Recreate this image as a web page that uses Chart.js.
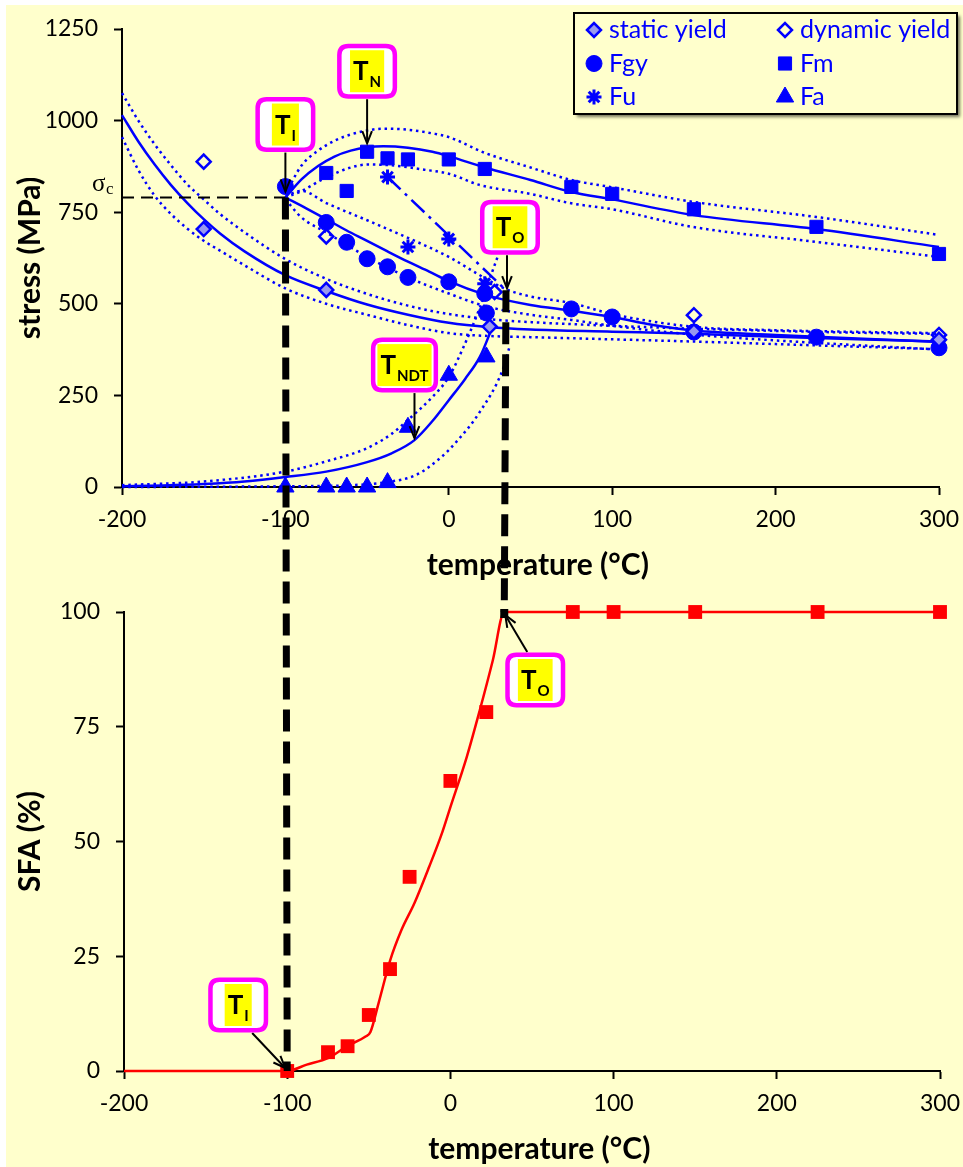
<!DOCTYPE html>
<html><head><meta charset="utf-8">
<script src="https://cdn.jsdelivr.net/npm/chart.js@4.4.0/dist/chart.umd.min.js"></script>
<style>
html,body{margin:0;padding:0;background:#fff;}
#wrap{position:relative;width:963px;height:1167px;overflow:hidden;}
#bg{position:absolute;left:6px;top:5px;right:0;bottom:0;background:#FFFFCC;}
canvas{position:absolute;left:0;}
#c1{top:0}
#c2{top:590px}
#ov{top:0;pointer-events:none}
</style></head><body>
<div id="wrap"><div id="bg"></div>
<canvas id="c1" width="963" height="590"></canvas>
<canvas id="c2" width="963" height="577"></canvas>
<canvas id="ov" width="963" height="1167"></canvas>
</div>
<script>
// ---------------- data ----------------
const tempTicks = [-200, -100, 0, 100, 200, 300];
const stressTicks = [0, 250, 500, 750, 1000, 1250];
const sfaTicks = [0, 25, 50, 75, 100];

// measured points (upper chart)
const staticYieldT = [-150, -75, 25, 150, 300];
const staticYieldV = [704, 538, 438, 425, 402];
const dynamicYieldT = [-150, -75, 28, 150, 300];
const dynamicYieldV = [888, 684, 532, 469, 415];
const fgyT = [-100, -75, -62.5, -50, -37.5, -25, 0, 22, 23, 75, 100, 150, 225, 300];
const fgyV = [820, 722, 668, 623, 601, 572, 560, 528, 475, 486, 464, 423, 409, 380];
const fmT = [-75, -62.5, -50, -37.5, -25, 0, 22, 75, 100, 150, 225, 300];
const fmV = [857, 808, 915, 897, 894, 894, 868, 819, 800, 758, 710, 636];
const fuT = [-37.5, -25, 0, 22];
const fuV = [846, 655, 677, 555];
const faT = [-100, -75, -62.5, -50, -37.5, -25, 0, 23];
const faV = [0, 0, 0, 0, 12, 163, 305, 355];

// fitted curves and bands (upper chart)
const staticFitT = [-200, -190, -180, -170, -160, -150, -140, -125, -100, -75, -50, -25, 0, 25, 50, 100, 150, 200, 250, 300];
const staticFitV = [1015, 943, 880, 824, 775, 731, 692, 643, 578, 535, 498, 470, 448, 436, 430, 424, 418, 410, 403, 397];
const staticUpT = [-200, -190, -180, -170, -160, -150, -140, -125, -100, -75, -50, -25, 0, 25, 50, 100, 150, 200, 250, 300];
const staticUpV = [1075, 1000, 935, 878, 826, 785, 745, 695, 622, 568, 527, 495, 472, 458, 450, 440, 432, 426, 421, 418];
const staticLoT = [-200, -190, -180, -170, -160, -150, -140, -125, -100, -75, -50, -25, 0, 25, 50, 100, 150, 200, 250, 300];
const staticLoV = [955, 865, 795, 745, 705, 672, 645, 605, 542, 500, 470, 442, 420, 412, 409, 403, 397, 390, 383, 376];

const fgyFitT = [-100, -87, -75, -62.5, -50, -37.5, -25, -12, 0, 22, 35, 50, 75, 100, 125, 150, 200, 250, 300];
const fgyFitV = [790, 760, 731, 700, 672, 643, 615, 588, 562, 525, 510, 497, 481, 464, 442, 427, 415, 405, 396];
const fgyUpT = [-100, -90, -75, -50, -25, 0, 19, 35, 50, 75, 100, 150, 200, 300];
const fgyUpV = [795, 808, 775, 728, 680, 628, 578, 540, 520, 502, 472, 437, 428, 420];
const fgyLoT = [-100, -90, -75, -50, -25, 0, 22, 50, 75, 100, 150, 200, 300];
const fgyLoV = [785, 735, 695, 628, 572, 528, 494, 470, 456, 440, 416, 400, 375];

const fmFitT = [-100, -90, -80, -70, -60, -50, -40, -25, -10, 0, 22, 50, 75, 100, 150, 225, 300];
const fmFitV = [790, 840, 876, 902, 918, 927, 930, 926, 915, 903, 872, 838, 805, 785, 742, 704, 655];
const fmUpT = [-100, -90, -80, -70, -60, -50, -40, -25, -10, 0, 22, 50, 75, 100, 150, 225, 300];
const fmUpV = [800, 878, 918, 945, 962, 973, 978, 975, 965, 955, 912, 872, 838, 818, 778, 737, 688];
const fmLoT = [-100, -90, -75, -60, -50, -35, -15, 0, 19, 50, 74, 100, 149, 225, 300];
const fmLoV = [790, 808, 845, 872, 880, 878, 866, 855, 824, 800, 775, 758, 710, 669, 628];

const faFitT = [-200, -175, -150, -125, -100, -75, -50, -35, -21, -10, 0, 10, 19, 27];
const faFitV = [2, 4, 8, 15, 27, 42, 68, 92, 128, 180, 237, 295, 355, 440];
const faUpT = [-200, -150, -100, -75, -50, -35, -25, -10, 0, 9, 19, 26, 30];
const faUpV = [5, 15, 42, 70, 106, 145, 183, 246, 300, 382, 490, 580, 630];
const faLoT = [-200, -100, -60, -40, -20, -5, 5, 19, 33, 37];
const faLoV = [0, 2, 5, 12, 33, 80, 125, 205, 320, 380];

const fuLineT = [-37.5, 35];
const fuLineV = [846, 537];

// transition temperatures
const T_I = -100, SIGMA_C = 790;
const T_N = -50, T_N_STRESS = 930;
const T_NDT = -21, T_NDT_STRESS = 128;
const T_O_TOP = 35, T_O_STRESS = 537;
const T_O_BOT = 33, SFA_FULL = 100;
const sigmaLineT = [-200, T_I];
const sigmaLineV = [SIGMA_C, SIGMA_C];

// lower chart
const sfaT = [-100, -75, -63, -50, -37, -25, 0, 22, 75, 100, 150, 225, 300];
const sfaV = [0, 4.1, 5.4, 12.2, 22.2, 42.3, 63.2, 78.2, 100, 100, 100, 100, 100];
const sfaFitT = [-200, -100, -88, -75, -63, -52, -49, -44, -37, -30, -22, -13, -5, 0, 10, 18, 26, 33, 300];
const sfaFitV = [0, 0, 1.4, 2.8, 5.5, 7.5, 8.5, 14.8, 24, 30.7, 36.6, 44.5, 52, 57.5, 68.4, 78.6, 89.5, 100, 100];

// ---------------- styling helpers ----------------
const FONT = 'Lato';
const BLUE = '#0000FF';
const RED = '#FF0000';
const pts = (T, V) => T.map((t, i) => ({x: t, y: V[i]}));

function lineDS(T, V, kind, extra) {
  const d = {data: pts(T, V), showLine: true, pointRadius: 0, pointHoverRadius: 0,
    borderColor: BLUE, borderWidth: 2.5, fill: false, clip: false,
    cubicInterpolationMode: 'monotone', order: 10};
  if (kind === 'dot') d.borderDash = [2.5, 3.8];
  return Object.assign(d, extra || {});
}
function markDS(label, T, V, style, r, fill, bw, extra) {
  return Object.assign({label, data: pts(T, V), showLine: false, pointStyle: style,
    pointRadius: r, pointHoverRadius: r, pointBackgroundColor: fill, backgroundColor: fill,
    pointBorderColor: BLUE, borderColor: BLUE, pointBorderWidth: bw, borderWidth: bw,
    clip: false, order: 1}, extra || {});
}

function axisX(ticks, titleText, height, padBottom) {
  return {
    type: 'linear', position: 'bottom', min: ticks[0], max: ticks[ticks.length - 1],
    afterBuildTicks: s => { s.ticks = ticks.map(v => ({value: v})); },
    ticks: {color: '#000', font: {family: FONT, size: 23}, padding: 11, maxRotation: 0, autoSkip: false,
      callback: v => String(v)},
    grid: {display: true, drawOnChartArea: false, drawTicks: true, tickLength: 8, tickWidth: 2, color: '#000'},
    border: {display: true, color: '#000', width: 2},
    title: {display: true, text: titleText, color: '#000', font: {family: FONT, size: 30, weight: 'bold'},
      padding: {top: 0, bottom: padBottom}},
    afterFit: s => { s.height = height; s.paddingLeft = 0; s.paddingRight = 0; }
  };
}
function axisY(ticks, titleText, width) {
  return {
    type: 'linear', position: 'left', min: ticks[0], max: ticks[ticks.length - 1],
    afterBuildTicks: s => { s.ticks = ticks.map(v => ({value: v})); },
    ticks: {color: '#000', font: {family: FONT, size: 23}, padding: 16, autoSkip: false,
      callback: v => String(v)},
    grid: {display: true, drawOnChartArea: false, drawTicks: true, tickLength: 8, tickWidth: 2, color: '#000'},
    border: {display: true, color: '#000', width: 2},
    title: {display: true, text: titleText, color: '#000', font: {family: FONT, size: 30, weight: 'bold'},
      padding: {top: 6, bottom: 0}},
    afterFit: s => { s.width = width; s.paddingTop = 0; s.paddingBottom = 0; }
  };
}

function roundRect(ctx, x, y, w, h, r) {
  ctx.beginPath();
  ctx.moveTo(x + r, y);
  ctx.lineTo(x + w - r, y); ctx.quadraticCurveTo(x + w, y, x + w, y + r);
  ctx.lineTo(x + w, y + h - r); ctx.quadraticCurveTo(x + w, y + h, x + w - r, y + h);
  ctx.lineTo(x + r, y + h); ctx.quadraticCurveTo(x, y + h, x, y + h - r);
  ctx.lineTo(x, y + r); ctx.quadraticCurveTo(x, y, x + r, y);
  ctx.closePath();
}
function drawArrow(ctx, x1, y1, x2, y2) {
  ctx.save();
  ctx.strokeStyle = '#000'; ctx.lineWidth = 2; ctx.setLineDash([]);
  ctx.beginPath(); ctx.moveTo(x1, y1); ctx.lineTo(x2, y2); ctx.stroke();
  const a = Math.atan2(y2 - y1, x2 - x1), L = 13, s = 0.38;
  ctx.beginPath();
  ctx.moveTo(x2 - L * Math.cos(a - s), y2 - L * Math.sin(a - s));
  ctx.lineTo(x2, y2);
  ctx.lineTo(x2 - L * Math.cos(a + s), y2 - L * Math.sin(a + s));
  ctx.stroke();
  ctx.restore();
}
function drawTag(ctx, cx, cy, main, sub) {
  ctx.save();
  const fMain = 'bold 26px ' + FONT, fSub = 'bold 15px ' + FONT;
  ctx.font = fMain; const wm = ctx.measureText(main).width;
  ctx.font = fSub; const ws = ctx.measureText(sub).width;
  const tw = wm + ws + 1;
  const yw = tw + 6, yh = 42;
  const ow = Math.max(60, yw + 13), oh = 55;
  roundRect(ctx, cx - ow / 2 + 2.25, cy - oh / 2 + 2.25, ow - 4.5, oh - 4.5, 9);
  ctx.fillStyle = '#fff'; ctx.fill();
  ctx.lineWidth = 4.5; ctx.strokeStyle = '#FF00FF'; ctx.stroke();
  ctx.fillStyle = '#FFFF00'; ctx.fillRect(cx - yw / 2, cy - yh / 2, yw, yh);
  ctx.fillStyle = '#000'; ctx.textBaseline = 'alphabetic'; ctx.textAlign = 'left';
  const x0 = cx - tw / 2;
  ctx.font = fMain; ctx.fillText(main, x0, cy + 9);
  ctx.font = fSub; ctx.fillText(sub, x0 + wm + 1, cy + 16);
  ctx.restore();
}
function tagArrow(ctx, ax, ay, off, from, tip, main, sub) {
  const cx = ax + off[0], cy = ay + off[1];
  drawArrow(ctx, cx + from[0], cy + from[1], ax + tip[0], ay + tip[1]);
  drawTag(ctx, cx, cy, main, sub);
}
function pointMark(ctx, ds, x, y) {
  ctx.save();
  ctx.fillStyle = ds.pointBackgroundColor; ctx.strokeStyle = ds.pointBorderColor;
  ctx.lineWidth = ds.pointBorderWidth;
  Chart.helpers.drawPoint(ctx, {pointStyle: ds.pointStyle, radius: ds.pointRadius,
    borderWidth: ds.pointBorderWidth, rotation: 0}, x, y);
  ctx.restore();
}

// ---------------- datasets ----------------
const dsStatic = markDS('static yield', staticYieldT, staticYieldV, 'rectRot', 7, '#9999EE', 2.5);
const dsDynamic = markDS('dynamic yield', dynamicYieldT, dynamicYieldV, 'rectRot', 7, 'rgba(0,0,0,0)', 2.5);
const dsFgy = markDS('Fgy', fgyT, fgyV, 'circle', 8, BLUE, 1);
const dsFm = markDS('Fm', fmT, fmV, 'rect', 9.3, BLUE, 1);
const dsFu = markDS('Fu', fuT, fuV, 'star', 7.5, BLUE, 3);
const dsFa = markDS('Fa', faT, faV, 'triangle', 10, BLUE, 1);
const legendOrder = [dsStatic, dsDynamic, dsFgy, dsFm, dsFu, dsFa];

const topDecor = {
  id: 'topDecor',
  afterDatasetsDraw(chart) {
    const ctx = chart.ctx, x = chart.scales.x, y = chart.scales.y, ca = chart.chartArea;
    // sigma_c label
    const sy = y.getPixelForValue(SIGMA_C);
    ctx.save();
    ctx.fillStyle = '#000'; ctx.textAlign = 'left'; ctx.textBaseline = 'alphabetic';
    ctx.font = '25px "Liberation Serif"';
    ctx.fillText('σ', ca.left - 30, sy - 7);
    ctx.font = '17px "Liberation Serif"';
    ctx.fillText('c', ca.left - 16, sy - 4);
    ctx.restore();
    // tags
    tagArrow(ctx, x.getPixelForValue(T_I), y.getPixelForValue(SIGMA_C), [0, -73], [0, 28], [0, -6], 'T', 'I');
    tagArrow(ctx, x.getPixelForValue(T_N), y.getPixelForValue(T_N_STRESS), [0, -75], [0, 28], [0, -3], 'T', 'N');
    tagArrow(ctx, x.getPixelForValue(T_O_TOP), y.getPixelForValue(T_O_STRESS), [4, -63], [-3, 28], [1, -2], 'T', 'O');
    tagArrow(ctx, x.getPixelForValue(T_NDT), y.getPixelForValue(T_NDT_STRESS), [-10, -75], [10, 28], [0, -2], 'T', 'NDT');
    // legend
    const L = ca.right - 365, T = 13, W = 383, H = 101;
    ctx.save();
    ctx.shadowColor = 'rgba(0,0,0,0.55)'; ctx.shadowOffsetX = 3; ctx.shadowOffsetY = 3; ctx.shadowBlur = 3;
    ctx.fillStyle = '#FFFFCC'; ctx.fillRect(L, T, W, H);
    ctx.restore();
    ctx.save();
    ctx.strokeStyle = '#000'; ctx.lineWidth = 2; ctx.strokeRect(L, T, W, H);
    ctx.font = '25px ' + FONT; ctx.fillStyle = BLUE; ctx.textBaseline = 'alphabetic'; ctx.textAlign = 'left';
    legendOrder.forEach((ds, i) => {
      const col = i % 2, row = Math.floor(i / 2);
      const mx = L + 20 + col * 191, my = T + 17 + row * 33.5;
      pointMark(ctx, ds, mx, my);
      ctx.fillStyle = BLUE;
      ctx.fillText(ds.label, mx + 15, my + 8);
    });
    ctx.restore();
  }
};

const chartTop = new Chart(document.getElementById('c1'), {
  type: 'scatter',
  data: {datasets: [
    lineDS(sigmaLineT, sigmaLineV, 'solid', {borderColor: '#000', borderWidth: 2, borderDash: [12, 7], cubicInterpolationMode: 'default'}),
    lineDS(staticFitT, staticFitV, 'solid'),
    lineDS(staticUpT, staticUpV, 'dot'),
    lineDS(staticLoT, staticLoV, 'dot'),
    lineDS(fgyFitT, fgyFitV, 'solid'),
    lineDS(fgyUpT, fgyUpV, 'dot'),
    lineDS(fgyLoT, fgyLoV, 'dot'),
    lineDS(fmFitT, fmFitV, 'solid'),
    lineDS(fmUpT, fmUpV, 'dot'),
    lineDS(fmLoT, fmLoV, 'dot'),
    lineDS(faFitT, faFitV, 'solid'),
    lineDS(faUpT, faUpV, 'dot'),
    lineDS(faLoT, faLoV, 'dot'),
    lineDS(fuLineT, fuLineV, 'solid', {borderDash: [18, 6, 3, 6], cubicInterpolationMode: 'default'}),
    dsStatic, dsDynamic, dsFgy, dsFm, dsFu, dsFa
  ]},
  options: {
    responsive: false, animation: false, events: [],
    layout: {padding: {top: 29, left: 6, right: 24, bottom: 0}},
    plugins: {legend: {display: false}, tooltip: {enabled: false}},
    scales: {
      x: axisX(tempTicks, '  temperature (°C)', 103, 7),
      y: axisY(stressTicks, 'stress (MPa)', 116)
    }
  },
  plugins: [topDecor]
});

const botDecor = {
  id: 'botDecor',
  afterDatasetsDraw(chart) {
    const ctx = chart.ctx, x = chart.scales.x, y = chart.scales.y;
    tagArrow(ctx, x.getPixelForValue(T_O_BOT), y.getPixelForValue(SFA_FULL), [31, 68], [-8, -28], [1, 3], 'T', 'O');
    tagArrow(ctx, x.getPixelForValue(T_I), y.getPixelForValue(0), [-49, -66], [14, 28], [-2, -3], 'T', 'I');
  }
};

const chartBot = new Chart(document.getElementById('c2'), {
  type: 'scatter',
  data: {datasets: [
    lineDS(sfaFitT, sfaFitV, 'solid', {borderColor: RED, borderWidth: 2.5}),
    {data: pts(sfaT, sfaV), showLine: false, pointStyle: 'rect', pointRadius: 9.8, pointHoverRadius: 9.8,
      pointBackgroundColor: RED, pointBorderColor: RED, pointBorderWidth: 0, clip: false, order: 1}
  ]},
  options: {
    responsive: false, animation: false, events: [],
    layout: {padding: {top: 22, left: 6, right: 23, bottom: 0}},
    plugins: {legend: {display: false}, tooltip: {enabled: false}},
    scales: {
      x: axisX(tempTicks, '  temperature (°C)', 96, 0),
      y: axisY(sfaTicks, 'SFA (%)', 118)
    }
  },
  plugins: [botDecor]
});

// cross-chart transition lines
(function drawOverlay() {
  const ov = document.getElementById('ov').getContext('2d');
  const off2 = document.getElementById('c2').offsetTop;
  const a = chartTop.scales, b = chartBot.scales;
  const dash = (x1, y1, x2, y2) => {
    ov.save(); ov.strokeStyle = '#000'; ov.lineWidth = 7; ov.setLineDash([22, 10]);
    ov.beginPath(); ov.moveTo(x1, y1); ov.lineTo(x2, y2); ov.stroke(); ov.restore();
  };
  dash(a.x.getPixelForValue(T_I), a.y.getPixelForValue(SIGMA_C),
       b.x.getPixelForValue(T_I), b.y.getPixelForValue(0) + off2);
  const tx2 = b.x.getPixelForValue(T_O_BOT), ty2 = b.y.getPixelForValue(SFA_FULL) + off2;
  dash(a.x.getPixelForValue(T_O_TOP), a.y.getPixelForValue(T_O_STRESS), tx2, ty2);
  ov.fillStyle = '#000'; ov.fillRect(tx2 - 4, ty2 - 3, 8, 9);
})();
</script>
</body></html>
